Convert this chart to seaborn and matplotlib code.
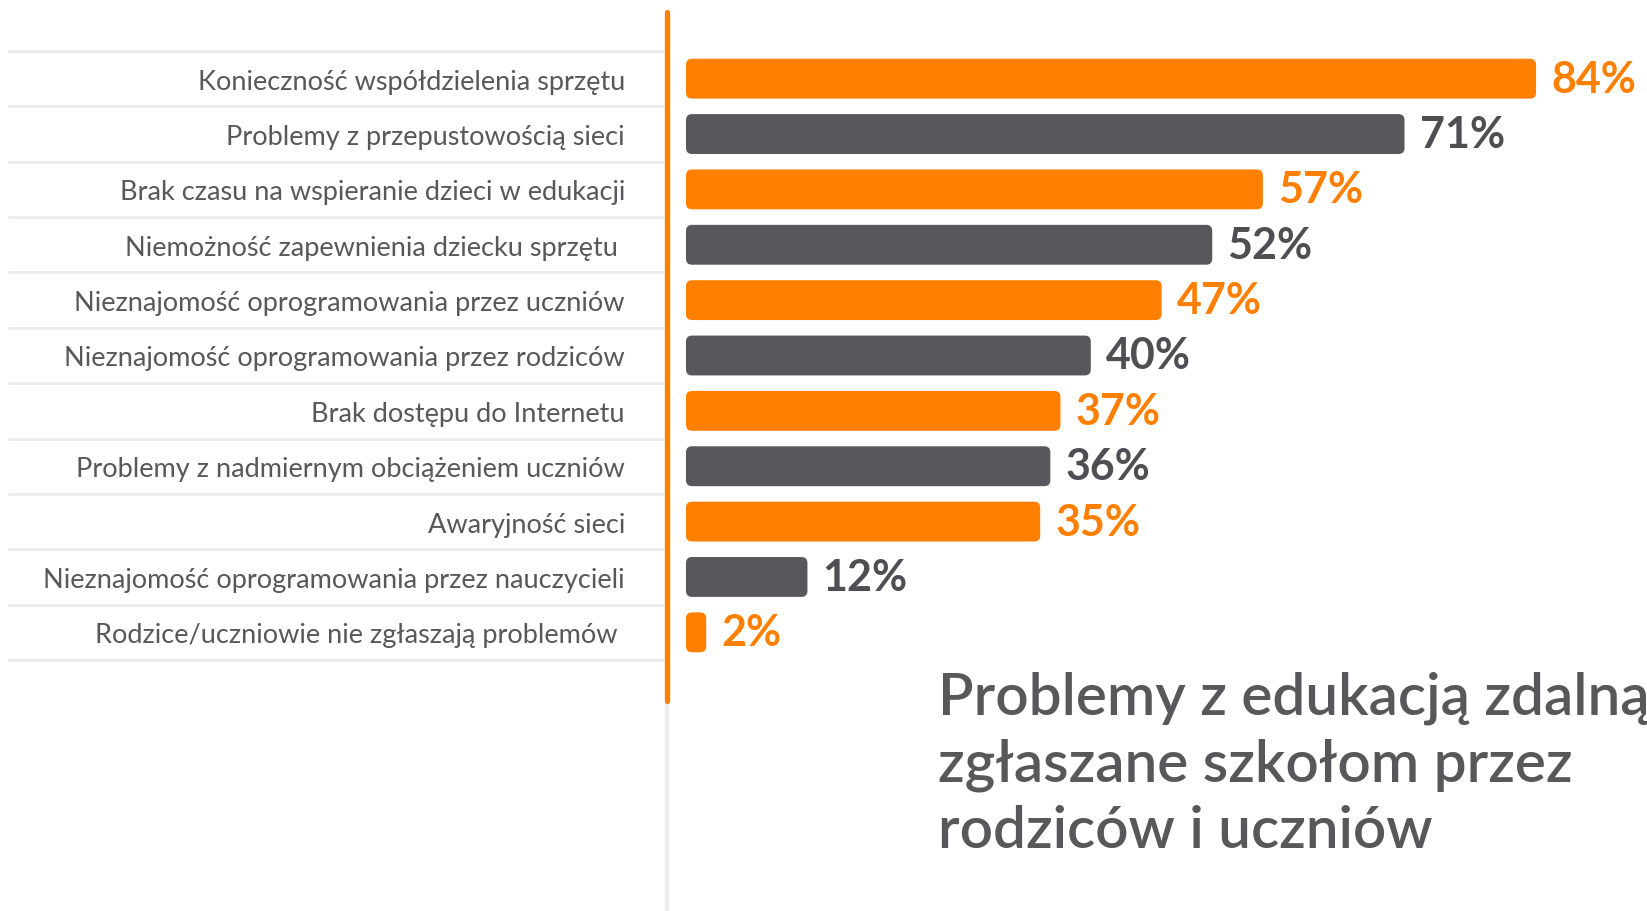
import numpy as np
import pandas as pd
import matplotlib.pyplot as plt
import seaborn as sns
from matplotlib.lines import Line2D
from matplotlib.patches import FancyBboxPatch

sns.set_style('white')
plt.rcParams['font.family'] = ['Lato', 'DejaVu Sans']

# Data
problemy = [
    'Konieczność współdzielenia sprzętu',
    'Problemy z przepustowością sieci',
    'Brak czasu na wspieranie dzieci w edukacji',
    'Niemożność zapewnienia dziecku sprzętu ',
    'Nieznajomość oprogramowania przez uczniów',
    'Nieznajomość oprogramowania przez rodziców',
    'Brak dostępu do Internetu',
    'Problemy z nadmiernym obciążeniem uczniów',
    'Awaryjność sieci',
    'Nieznajomość oprogramowania przez nauczycieli',
    'Rodzice/uczniowie nie zgłaszają problemów ',
]
procent = [84, 71, 57, 52, 47, 40, 37, 36, 35, 12, 2]

orange = '#ff8000'
dark = '#58575c'
text_grey = '#58585b'
colors = [orange if i % 2 == 0 else dark for i in range(len(procent))]
label_colors = [orange if i % 2 == 0 else '#4f4f53' for i in range(len(procent))]

df = pd.DataFrame({'problem': problemy, 'procent': procent})

W, H = 1647, 912
fig = plt.figure(figsize=(W / 100, H / 100), dpi=100)
ax_left, ax_right = 686, 1647
ax_top, ax_bot = 52, 661
ax = fig.add_axes([ax_left / W, 1 - ax_bot / H, (ax_right - ax_left) / W, (ax_bot - ax_top) / H])

sns.barplot(data=df, x='procent', y='problem', hue='problem', palette=colors,
            saturation=1, dodge=False, legend=False, width=0.72, orient='h', ax=ax)

ax.set_xlim(0, (ax_right - ax_left) / 10.12)
ax.set_ylim(len(procent) - 0.5, -0.5)

# value labels
for cont, v, c in zip(ax.containers, procent, label_colors):
    ax.bar_label(cont, labels=[f'{v}%'], padding=11, fontsize=31,
                 fontweight='bold', color=c)

# rounded bars
px_x = (ax_right - ax_left) / ax.get_xlim()[1]
px_y = (ax_bot - ax_top) / len(procent)
for p in list(ax.patches):
    x0, y0, w, h = p.get_x(), p.get_y(), p.get_width(), p.get_height()
    fc = p.get_facecolor()
    p.set_visible(False)
    r = min(6 / px_x, w / 2)
    ax.add_patch(FancyBboxPatch((x0, y0), w, h, boxstyle=f'round,pad=0,rounding_size={r}',
                                mutation_aspect=px_x / px_y, facecolor=fc, edgecolor='none'))

# axes styling
for s in ax.spines.values():
    s.set_visible(False)
ax.set_xticks([])
ax.set_xlabel('')
ax.set_ylabel('')
ax.tick_params(axis='y', length=0, pad=44, labelsize=19.5, labelcolor=text_grey)

# separators
sep_y = np.arange(len(procent) + 1) - 0.5
ax.hlines(sep_y, (8 - ax_left) / (ax_right - ax_left), (664 - ax_left) / (ax_right - ax_left),
          transform=ax.get_yaxis_transform(), color='#ebebeb', lw=2.2, clip_on=False)

# vertical line
fig.add_artist(Line2D([667 / W, 667 / W], [1 - 702 / H, 0], color='#eeeeee', lw=3.2))
fig.add_artist(Line2D([667 / W, 667 / W], [1 - 13 / H, 1 - 702 / H], color=orange, lw=3.8))

# title
fig.text(938 / W, 1 - 672 / H,
         'Problemy z edukacją zdalną\nzgłaszane szkołom przez\nrodziców i uczniów',
         fontsize=42, fontweight='semibold', color=text_grey, va='top', ha='left',
         linespacing=1.3)

fig.savefig('out.png', dpi=100)
